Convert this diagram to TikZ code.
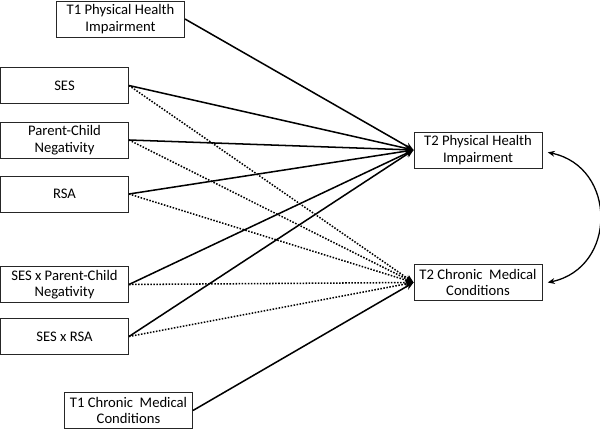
\documentclass[tikz,border=0pt]{standalone}
\usepackage{fontspec}
\setmainfont{Carlito}
\usetikzlibrary{positioning,arrows.meta}

\tikzset{
  var/.style={draw=black!85, line width=0.8pt, minimum width=3.84cm, minimum height=1.08cm,
    align=center, inner sep=1pt, font=\fontsize{12.5}{14}\selectfont},
  path/.style={-{Stealth[length=7pt,width=6pt]}, line width=1.3pt},
  npath/.style={path, dash pattern=on 1.3pt off 1.3pt},
}

\begin{document}
\begin{tikzpicture}[x=0.03cm, y=-0.03cm]
	\useasboundingbox (0,0) rectangle (600,430);
	% predictors
	\node [var] (PH1)  at (120.5,19)  {T1 Physical Health\\Impairment};
	\node [var] (SES)  at (64.5,85.5) {SES};
	\node [var] (PCN)  at (64.5,140)  {Parent-Child\\Negativity};
	\node [var] (RSA)  at (64.5,194)  {RSA};
	\node [var] (SxP)  at (64.5,284.5) {SES x Parent-Child\\Negativity};
	\node [var] (SxR)  at (64.5,336.5) {SES x RSA};
	\node [var] (CM1)  at (128.5,410.5) {T1 Chronic\ \ Medical\\Conditions};
	% outcomes
	\node [var] (PH2)  at (478,150)   {T2 Physical Health\\Impairment};
	\node [var] (CM2)  at (478,282.5) {T2 Chronic\ \ Medical\\Conditions};
	% paths to T2 physical health
	\draw [path] (PH1.east) to (PH2.west);
	\draw [path] (SES.east) to (PH2.west);
	\draw [path] (PCN.east) to (PH2.west);
	\draw [path] (RSA.east) to (PH2.west);
	\draw [path] (SxP.east) to (PH2.west);
	\draw [path] (SxR.east) to (PH2.west);
	% paths to T2 chronic conditions
	\draw [npath] (SES.east) to (CM2.west);
	\draw [npath] (PCN.east) to (CM2.west);
	\draw [npath] (RSA.east) to (CM2.west);
	\draw [npath] (SxP.east) to (CM2.west);
	\draw [npath] (SxR.east) to (CM2.west);
	\draw [path] (CM1.east) to (CM2.west);
	% covariance
	\draw [{Stealth[length=6pt,width=5pt]}-{Stealth[length=6pt,width=5pt]}, line width=1.1pt]
		([xshift=4.5pt,yshift=-2pt]PH2.east) to [out=-12, in=12, looseness=1.4] ([xshift=4.5pt,yshift=0pt]CM2.east);
\end{tikzpicture}
\end{document}
